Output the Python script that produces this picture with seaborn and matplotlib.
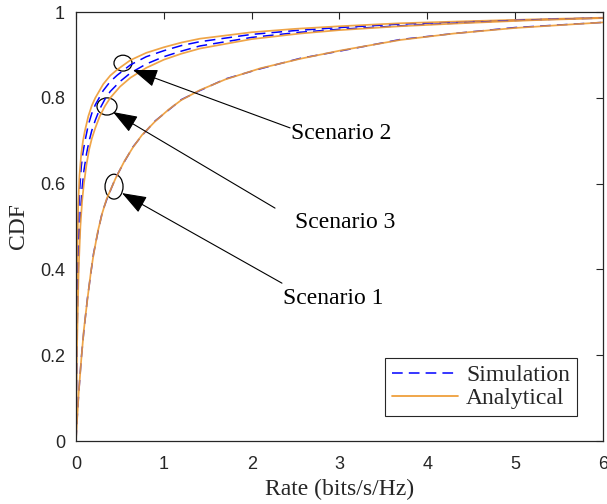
import numpy as np
import pandas as pd
import matplotlib
matplotlib.use("Agg")
import matplotlib.pyplot as plt
from matplotlib.patches import Ellipse
from matplotlib.lines import Line2D
import seaborn as sns

# ---- data: rate CDF for the three scenarios ----
s1_x = [0, 0.01, 0.03, 0.06, 0.09, 0.13, 0.17, 0.20, 0.25, 0.30, 0.35, 0.45, 0.55, 0.65, 0.75,
        0.90, 1.05, 1.20, 1.41, 1.70, 2.10, 2.55, 3.00, 3.69, 4.30, 5.00, 6.00]
s1_analytical = [0, 0.04, 0.11, 0.19, 0.26, 0.33, 0.395, 0.435, 0.49, 0.532, 0.565, 0.612, 0.652,
                 0.685, 0.713, 0.745, 0.772, 0.795, 0.818, 0.843, 0.869, 0.891, 0.910, 0.935,
                 0.950, 0.963, 0.976]
s1_simulation = [0, 0.042, 0.108, 0.192, 0.258, 0.332, 0.393, 0.437, 0.488, 0.534, 0.563, 0.613,
                 0.651, 0.686, 0.712, 0.746, 0.771, 0.796, 0.817, 0.844, 0.868, 0.892, 0.909,
                 0.936, 0.950, 0.964, 0.976]

s2_x = [0, 0.004, 0.012, 0.025, 0.04, 0.06, 0.08, 0.10, 0.14, 0.18, 0.22, 0.31, 0.39, 0.47,
        0.62, 0.80, 1.00, 1.20, 1.41, 2.00, 2.50, 3.00, 3.69, 4.50, 5.20, 6.00]
s2_analytical = [0, 0.20, 0.40, 0.55, 0.62, 0.67, 0.70, 0.722, 0.757, 0.782, 0.80, 0.832, 0.852,
                 0.866, 0.888, 0.905, 0.918, 0.929, 0.938, 0.953, 0.961, 0.967, 0.974, 0.979,
                 0.983, 0.987]
s2_simulation = [0, 0.17, 0.36, 0.50, 0.58, 0.64, 0.673, 0.697, 0.737, 0.764, 0.784, 0.817,
                 0.838, 0.853, 0.877, 0.896, 0.910, 0.922, 0.931, 0.948, 0.957, 0.964, 0.972,
                 0.978, 0.982, 0.987]

s3_x = [0, 0.01, 0.03, 0.05, 0.07, 0.09, 0.12, 0.15, 0.18, 0.22, 0.27, 0.33, 0.39, 0.50, 0.62,
        0.80, 1.00, 1.20, 1.41, 2.00, 2.55, 3.00, 3.69, 4.50, 5.20, 6.00]
s3_analytical = [0, 0.20, 0.40, 0.50, 0.56, 0.60, 0.645, 0.68, 0.705, 0.73, 0.757, 0.781, 0.80,
                 0.826, 0.847, 0.870, 0.889, 0.903, 0.915, 0.937, 0.950, 0.958, 0.967, 0.975,
                 0.981, 0.986]
s3_simulation = [0, 0.23, 0.43, 0.53, 0.59, 0.63, 0.67, 0.70, 0.724, 0.748, 0.774, 0.797, 0.815,
                 0.838, 0.858, 0.879, 0.896, 0.909, 0.921, 0.941, 0.953, 0.960, 0.968, 0.976,
                 0.982, 0.986]

x_ticks = [0, 1, 2, 3, 4, 5, 6]
y_ticks = [0, 0.2, 0.4, 0.6, 0.8, 1]
y_tick_labels = ["0", "0.2", "0.4", "0.6", "0.8", "1"]

scenario_names = ["Scenario 1", "Scenario 2", "Scenario 3"]

# ---- style ----
sns.set_style("white")
plt.rcParams["font.family"] = ["Liberation Sans", "DejaVu Sans"]
serif = ["Liberation Serif", "DejaVu Serif"]

BLUE = "#0000FF"
ORANGE = "#EE9B34"
DARK = "#262626"

fig = plt.figure(figsize=(6.07, 5.04), dpi=100)
ax = fig.add_axes([0.1252, 0.125, 0.8682, 0.851])

curves = [
    (s1_x, s1_simulation, s1_analytical),
    (s2_x, s2_simulation, s2_analytical),
    (s3_x, s3_simulation, s3_analytical),
]
for xs, sim, ana in curves:
    sns.lineplot(x=xs, y=sim, ax=ax, color=BLUE, linewidth=1.1, sort=False,
                 estimator=None, linestyle=(0, (7, 4)))
    sns.lineplot(x=xs, y=ana, ax=ax, color=ORANGE, linewidth=1.25, sort=False,
                 estimator=None, alpha=0.9)

ax.set_xlim(0, 6)
ax.set_ylim(0, 1)
ax.set_xticks(x_ticks)
ax.set_xticklabels([str(t) for t in x_ticks])
ax.set_yticks(y_ticks)
ax.set_yticklabels(y_tick_labels)
ax.tick_params(direction="in", length=5, width=0.8, top=True, right=True,
               labelsize=13, colors=DARK)
ax.tick_params(axis="x", pad=11)
ax.tick_params(axis="y", pad=8)
for sp in ax.spines.values():
    sp.set_visible(True)
    sp.set_color(DARK)
    sp.set_linewidth(0.9)

ax.set_xlabel("Rate (bits/s/Hz)", fontsize=17, family=serif, color=DARK, labelpad=4)
ax.set_ylabel("CDF", fontsize=17, family=serif, color=DARK, labelpad=8)

# ---- markers around curves with arrows and scenario labels ----
ellipses = [(0.433, 0.593, 0.205, 0.058), (0.535, 0.881, 0.205, 0.037), (0.353, 0.780, 0.228, 0.040)]
arrow_tips = [(0.524, 0.578), (0.649, 0.865), (0.421, 0.767)]
arrow_tails = [(2.345, 0.368), (2.437, 0.730), (2.266, 0.543)]
label_pos = [(2.36, 0.333), (2.45, 0.718), (2.49, 0.510)]

for (cx, cy, w, h), tip, tail, (tx, ty), name in zip(ellipses, arrow_tips, arrow_tails,
                                                       label_pos, scenario_names):
    ax.add_patch(Ellipse((cx, cy), w, h, fill=False, edgecolor="black", linewidth=0.9))
    ax.annotate("", xy=tip, xytext=tail,
                arrowprops=dict(arrowstyle="-|>,head_length=0.9,head_width=0.33",
                                color="black", lw=0.8, shrinkA=0, shrinkB=0,
                                mutation_scale=17))
    ax.text(tx, ty, name, fontsize=17, family=serif, ha="left", va="center", color="black")

handles = [Line2D([], [], color=BLUE, linewidth=1.1, linestyle=(0, (7, 4))),
           Line2D([], [], color=ORANGE, linewidth=1.25)]
leg = ax.legend(handles, ["Simulation", "Analytical"], loc="lower right",
                bbox_to_anchor=(0.951, 0.058), prop={"family": serif, "size": 17},
                frameon=True, fancybox=False, framealpha=1, edgecolor=DARK,
                handlelength=2.8, handletextpad=0.35, borderpad=0.3, labelspacing=0.05,
                borderaxespad=0)
leg.get_frame().set_linewidth(0.8)

fig.savefig("out.png", dpi=100)
